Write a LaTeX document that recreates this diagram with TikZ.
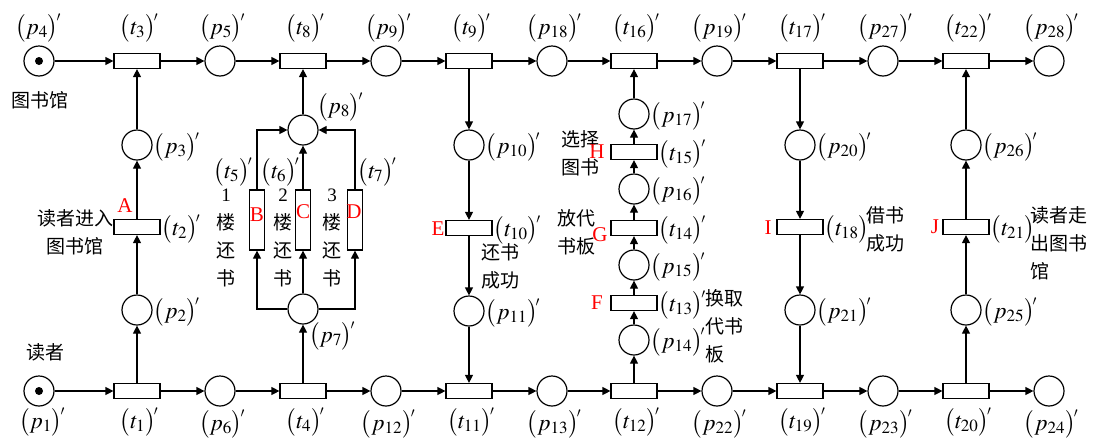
\documentclass[tikz,border=0pt]{standalone}
\usepackage{mathptmx}
\usepackage{fontspec}
\setmainfont{Liberation Serif}
\newfontfamily\cjk{Noto Sans CJK SC}
\usetikzlibrary{arrows.meta}
\newcommand\PL[2]{$\bigl(#1_{#2}\bigr)^{\!\scriptscriptstyle\prime}$}
\begin{document}
\begin{tikzpicture}[x=1pt,y=-1pt,
  every node/.style={font=\fontsize{20}{22}\selectfont},
  place/.style={circle,draw,line width=1.2pt,minimum size=30pt,inner sep=0pt},
  trans/.style={rectangle,draw,line width=1.2pt,minimum width=46pt,minimum height=15pt,inner sep=0pt},
  vtrans/.style={rectangle,draw,line width=1.2pt,minimum width=15pt,minimum height=60pt,inner sep=0pt},
  arc/.style={line width=1.2pt,-{Triangle[length=8pt,width=8pt]}},
  lab/.style={inner sep=0pt,font=\fontsize{23}{25}\selectfont},
  cn/.style={font=\cjk\fontsize{19}{28}\selectfont,inner sep=0pt,align=left},
  letter/.style={text=red,font=\fontsize{21}{22}\selectfont,inner sep=0pt},
  tok/.style={circle,fill,minimum size=8pt,inner sep=0pt}]
\useasboundingbox (0,0) rectangle (1095,445);
% top row
\node[place] (p4) at (39,61) {};
\node[tok] (k4) at (39,61) {};
\node[trans] (t3) at (137,61) {};
\node[place] (p5) at (220,61) {};
\node[trans] (t8) at (303,61) {};
\node[place] (p9) at (386,61) {};
\node[trans] (t9) at (469,61) {};
\node[place] (p18) at (552,61) {};
\node[trans] (t16) at (634,61) {};
\node[place] (p19) at (717,61) {};
\node[trans] (t17) at (800,61) {};
\node[place] (p27) at (883,61) {};
\node[trans] (t22) at (966,61) {};
\node[place] (p28) at (1049,61) {};
% bottom row
\node[place] (p1) at (39,391) {};
\node[tok] (k1) at (39,391) {};
\node[trans] (t1) at (137,391) {};
\node[place] (p6) at (220,391) {};
\node[trans] (t4) at (303,391) {};
\node[place] (p12) at (386,391) {};
\node[trans] (t11) at (469,391) {};
\node[place] (p13) at (552,391) {};
\node[trans] (t12) at (634,391) {};
\node[place] (p22) at (717,391) {};
\node[trans] (t19) at (800,391) {};
\node[place] (p23) at (883,391) {};
\node[trans] (t20) at (966,391) {};
\node[place] (p24) at (1049,391) {};
% column 137
\node[place] (p3) at (137,145) {};
\node[trans] (t2) at (137,227) {};
\node[place] (p2) at (137,310) {};
% column 303
\node[place] (p8) at (303,130) {};
\node[vtrans] (t5) at (257,220) {};
\node[vtrans] (t6) at (303,220) {};
\node[vtrans] (t7) at (355,220) {};
\node[place] (p7) at (303,309) {};
% column 469
\node[place] (p10) at (469,145) {};
\node[trans] (t10) at (469,228) {};
\node[place] (p11) at (469,311) {};
% column 634
\node[place] (p17) at (634,114) {};
\node[trans] (t15) at (634,152) {};
\node[place] (p16) at (634,189) {};
\node[trans] (t14) at (634,228) {};
\node[place] (p15) at (634,265) {};
\node[trans] (t13) at (634,303) {};
\node[place] (p14) at (634,340) {};
% column 800
\node[place] (p20) at (800,145) {};
\node[trans] (t18) at (800,227) {};
\node[place] (p21) at (800,310) {};
% column 966
\node[place] (p26) at (966,145) {};
\node[trans] (t21) at (966,227) {};
\node[place] (p25) at (966,310) {};
% horizontal arcs
\foreach \a/\b in {p4/t3,t3/p5,p5/t8,t8/p9,p9/t9,t9/p18,p18/t16,t16/p19,p19/t17,t17/p27,p27/t22,t22/p28,
  p1/t1,t1/p6,p6/t4,t4/p12,p12/t11,t11/p13,p13/t12,t12/p22,p22/t19,t19/p23,p23/t20,t20/p24}
  \draw[arc] (\a) -- (\b);
% vertical arcs
\foreach \a/\b in {t1/p2,p2/t2,t2/p3,p3/t3,
  t4/p7,p7/t6,t6/p8,p8/t8,
  t9/p10,p10/t10,t10/p11,p11/t11,
  t12/p14,p14/t13,t13/p15,p15/t14,t14/p16,p16/t15,t15/p17,p17/t16,
  t17/p20,p20/t18,t18/p21,p21/t19,
  t20/p25,p25/t21,t21/p26,p26/t22}
  \draw[arc] (\a) -- (\b);
\draw[arc] (p7.west) -| (t5.south);
\draw[arc] (p7.east) -| (t7.south);
\draw[arc] (t5.north) |- (p8.west);
\draw[arc] (t7.north) |- (p8.east);
% labels top
\node[lab] (lp4) at (38,28) {\PL{p}{4}};
\node[lab] (lt3) at (139,28) {\PL{t}{3}};
\node[lab] (lp5) at (222,28) {\PL{p}{5}};
\node[lab] (lt8) at (305,28) {\PL{t}{8}};
\node[lab] (lp9) at (388,28) {\PL{p}{9}};
\node[lab] (lt9) at (471,28) {\PL{t}{9}};
\node[lab] (lp18) at (554,28) {\PL{p}{18}};
\node[lab] (lt16) at (636,28) {\PL{t}{16}};
\node[lab] (lp19) at (719,28) {\PL{p}{19}};
\node[lab] (lt17) at (802,28) {\PL{t}{17}};
\node[lab] (lp27) at (885,28) {\PL{p}{27}};
\node[lab] (lt22) at (968,28) {\PL{t}{22}};
\node[lab] (lp28) at (1051,28) {\PL{p}{28}};
% labels bottom
\node[lab] (lp1) at (42,422) {\PL{p}{1}};
\node[lab] (lt1) at (139,422) {\PL{t}{1}};
\node[lab] (lp6) at (222,424) {\PL{p}{6}};
\node[lab] (lt4) at (305,422) {\PL{t}{4}};
\node[lab] (lp12) at (388,424) {\PL{p}{12}};
\node[lab] (lt11) at (471,422) {\PL{t}{11}};
\node[lab] (lp13) at (554,424) {\PL{p}{13}};
\node[lab] (lt12) at (636,422) {\PL{t}{12}};
\node[lab] (lp22) at (719,424) {\PL{p}{22}};
\node[lab] (lt19) at (802,422) {\PL{t}{19}};
\node[lab] (lp23) at (885,424) {\PL{p}{23}};
\node[lab] (lt20) at (968,422) {\PL{t}{20}};
\node[lab] (lp24) at (1051,424) {\PL{p}{24}};
% side labels
\foreach \n/\s/\i in {p3/p/3,t2/t/2,p2/p/2,p10/p/10,t10/t/10,p11/p/11,
  p17/p/17,t15/t/15,p16/p/16,t14/t/14,p15/p/15,t13/t/13,p14/p/14,
  p20/p/20,t18/t/18,p21/p/21,p26/p/26,t21/t/21,p25/p/25}
  \node[lab,anchor=west] (l\n) at ([xshift=1pt,yshift=-2pt]\n.east) {\PL{\s}{\i}};
\node[lab] (lp8) at (340,107) {\PL{p}{8}};
\node[lab] (lp7) at (332,336) {\PL{p}{7}};
\node[lab] (lt5) at (233,172) {\PL{t}{5}};
\node[lab] (lt6) at (280,172) {\PL{t}{6}};
\node[lab] (lt7) at (377,172) {\PL{t}{7}};
% chinese texts
\node[cn,align=center] (c1) at (40,100) {图书馆};
\node[cn,align=center] (c2) at (45,352) {读者};
\node[cn,align=center] (c3) at (75,232) {读者进入\\图书馆};
\node[cn,align=center] (c4) at (226,238) {{\rmfamily 1}\\楼\\还\\书};
\node[cn,align=center] (c5) at (283,238) {{\rmfamily 2}\\楼\\还\\书};
\node[cn,align=center] (c6) at (332,238) {{\rmfamily 3}\\楼\\还\\书};
\node[cn,anchor=west] (c7) at (481,266) {还书\\成功};
\node[cn,anchor=west] (c8) at (561,153) {选择\\图书};
\node[cn,anchor=west] (c9) at (557,232) {放代\\书板};
\node[cn,anchor=west] (c10) at (705,326) {换取\\代书\\板};
\node[cn,anchor=west] (c11) at (866,229) {借书\\成功};
\node[cn,anchor=west] (c12) at (1030,243) {读者走\\出图书\\馆};
% red letters
\node[letter] (A) at (125,206) {A};
\node[letter] (B) at (257,215) {B};
\node[letter] (C) at (303,212) {C};
\node[letter] (D) at (354,212) {D};
\node[letter] (E) at (438,229) {E};
\node[letter] (F) at (597,303) {F};
\node[letter] (G) at (600,235) {G};
\node[letter] (H) at (597,152) {H};
\node[letter] (I) at (768,228) {I};
\node[letter] (J) at (935,227) {J};
\end{tikzpicture}
\end{document}
